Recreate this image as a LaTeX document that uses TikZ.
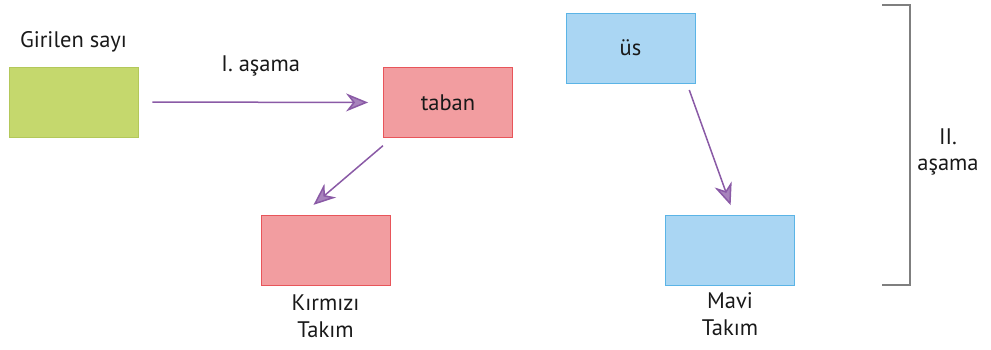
\documentclass[tikz,border=0pt]{standalone}
\usepackage{fontspec}
\setmainfont{PT Sans}
\usetikzlibrary{arrows.meta}
\definecolor{yesil}{HTML}{C5D86D}
\definecolor{yesilkenar}{HTML}{B3C85A}
\definecolor{kirmizi}{HTML}{F29DA0}
\definecolor{kirmizikenar}{HTML}{E8555A}
\definecolor{mavi}{HTML}{AAD6F3}
\definecolor{mavikenar}{HTML}{5BB4E6}
\definecolor{mor}{HTML}{8A5AA6}
\definecolor{gri}{HTML}{7F7F7F}
\begin{document}
\begin{tikzpicture}[x=1pt,y=-1pt] % Taban ve üs
\tikzstyle{kutu} = [rectangle, minimum width=129pt, minimum height=70pt, inner sep=0pt, line width=0.8pt] % kutu stili
\tikzstyle{yazi} = [font=\fontsize{22.5}{26.5}\selectfont, text=black!90, align=center] % yazı stili
\tikzstyle{ok} = [draw=mor, line width=1.5pt, -{Stealth[length=22pt,width=18pt,inset=7pt,fill=mor!75!white]}] % ok stili
\useasboundingbox (0,0) rectangle (991,349);
%
\node[kutu, fill=yesil, draw=yesilkenar] (girilen) at (73.5,102) {};
\node[yazi] (girilenyazi) at (73.5,42) {Girilen sayı};
\node[kutu, fill=kirmizi, draw=kirmizikenar, yazi] (taban) at (448,102.5) {taban};
\node[kutu, fill=kirmizi, draw=kirmizikenar] (kirmizitakim) at (325.5,250) {};
\node[yazi, below=6pt] (kirmiziyazi) at (kirmizitakim.south) {Kırmızı\\Takım};
\node[kutu, fill=mavi, draw=mavikenar, yazi] (us) at (630.5,48) {üs};
\node[kutu, fill=mavi, draw=mavikenar] (mavitakim) at (730,250) {};
\node[yazi, below=4pt] (maviyazi) at (mavitakim.south) {Mavi\\Takım};
%
\draw[ok, shorten <=14pt, shorten >=15pt] (girilen.east) -- node[yazi, above=22pt] (birinci) {I. aşama} (taban.west);
\draw[ok, shorten <=12pt, shorten >=15pt] ([xshift=9pt]taban.south west) -- ([xshift=41.5pt]kirmizitakim.north west);
\draw[ok, shorten <=7pt, shorten >=10pt] ([xshift=-8.5pt]us.south east) -- ([xshift=4pt]mavitakim.north);
% köşeli parantez
\coordinate (pust) at (882,5);
\coordinate (palt) at (882,285);
\draw[gri, line width=1.2pt] (pust) -- (910,5) -- (910,285) -- (palt);
\node[yazi] (ikinci) at (948,152) {II.\\aşama};
\end{tikzpicture}
\end{document}
